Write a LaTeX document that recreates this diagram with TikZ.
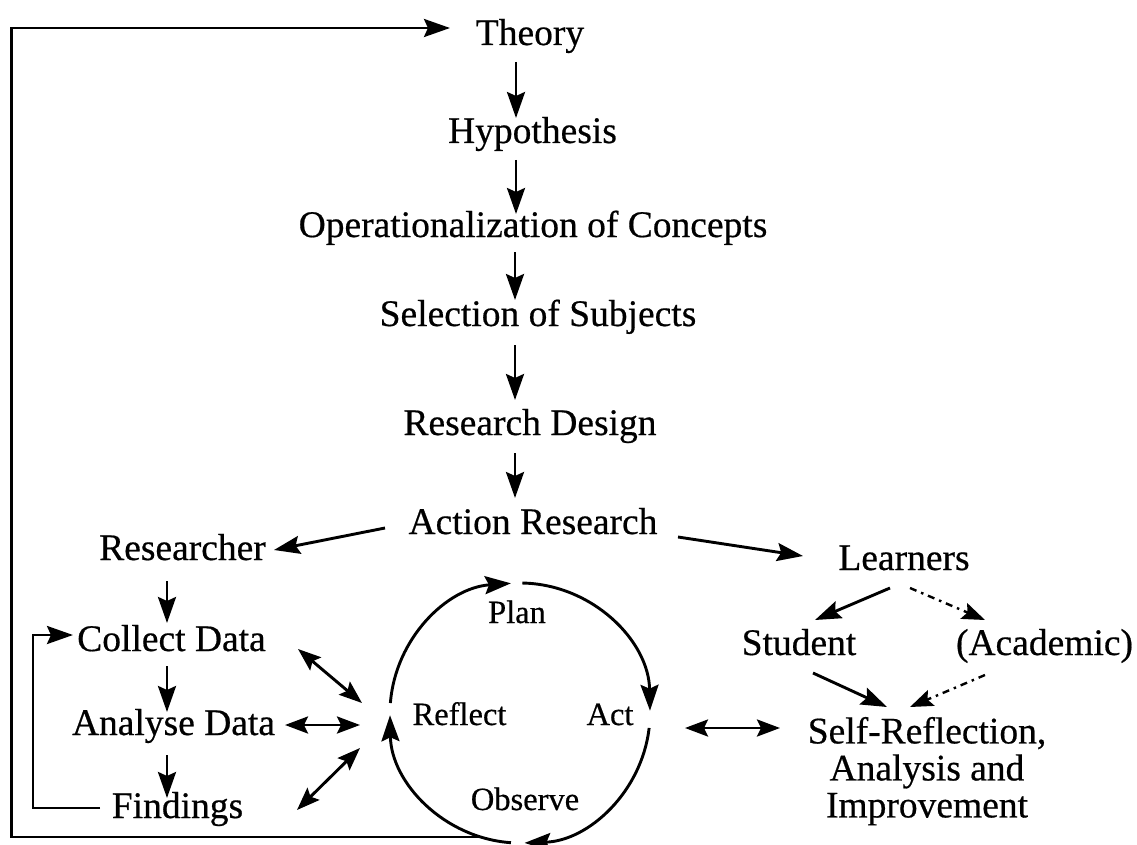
\documentclass[tikz,border=0pt]{standalone}
\usepackage{fontspec}
\setmainfont{Liberation Serif}[FakeBold=0.5,AutoFakeBold=0.5]
\usetikzlibrary{arrows.meta}
\begin{document}
\begin{tikzpicture}[x=1pt,y=1pt,
  lbl/.style={inner sep=0pt, outer sep=0pt, anchor=base, font=\fontsize{37.5}{37}\selectfont\bfseries},
  slbl/.style={inner sep=0pt, outer sep=0pt, anchor=base, font=\fontsize{32.5}{34}\selectfont\bfseries},
  arr/.style={line width=2.9pt, -{Stealth[length=26pt,width=18pt,inset=4pt]}},
  darr/.style={line width=2.9pt, {Stealth[length=23pt,width=17pt,inset=4pt]}-{Stealth[length=23pt,width=17pt,inset=4pt]}},
  dotarr/.style={line width=2.4pt, dash pattern=on 7pt off 5pt on 2.5pt off 5pt, -{Stealth[length=23pt,width=17pt,inset=4pt]}},
]
\useasboundingbox (0,0) rectangle (1137,-845);

% text nodes
\node[lbl] (theory) at (530,-45) {Theory};
\node[lbl] (hyp) at (532.5,-143) {Hypothesis};
\node[lbl] (oper) at (533,-237) {Operationalization of Concepts};
\node[lbl] (sel) at (538,-326) {Selection of Subjects};
\node[lbl] (rd) at (530,-435) {Research Design};
\node[lbl] (ar) at (533,-534) {Action Research};
\node[lbl] (res) at (182.5,-560) {Researcher};
\node[lbl] (lrn) at (904,-570) {Learners};
\node[lbl] (col) at (171.5,-651) {Collect Data};
\node[lbl] (ana) at (173.5,-735) {Analyse Data};
\node[lbl] (fnd) at (177.5,-818) {Findings};
\node[lbl] (stu) at (799,-655) {Student};
\node[lbl] (aca) at (1044.5,-655) {(Academic)};
\node[lbl, anchor=north, align=center] (self) at (927,-717) {Self-Reflection,\\Analysis and\\Improvement};

% cycle
\node[circle, minimum size=260pt, inner sep=0pt, outer sep=0pt] (cyc) at (520,-713) {};
\node[slbl] (plan) at (517,-623) {Plan};
\node[slbl] (reflect) at (459.5,-725) {Reflect};
\node[slbl] (act) at (610,-725) {Act};
\node[slbl] (observe) at (525,-810) {Observe};

\draw[arr] ([shift={(175.6:130)}]cyc.center) arc[start angle=175.6, end angle=94, radius=130];
\draw[arr] ([shift={(89:130)}]cyc.center) arc[start angle=89, end angle=1, radius=130];
\draw[arr] ([shift={(353.4:130)}]cyc.center) arc[start angle=353.4, end angle=272, radius=130];
\draw[arr] ([shift={(266:130)}]cyc.center) arc[start angle=266, end angle=181, radius=130];

% main column
\draw[arr] ([shift={(-14,-17)}]theory.base) -- ([shift={(-16.5,25)}]hyp.base);
\draw[arr] ([shift={(-16.5,-17)}]hyp.base) -- ([shift={(-17,23)}]oper.base);
\draw[arr] ([shift={(-18,-15)}]oper.base) -- ([shift={(-23,26)}]sel.base);
\draw[arr] ([shift={(-23,-19)}]sel.base) -- ([shift={(-15,35)}]rd.base);
\draw[arr] ([shift={(-15,-18)}]rd.base) -- ([shift={(-18,36)}]ar.base);

% branches
\draw[arr] ([shift={(-148,6)}]ar.base) -- ([shift={(91.5,10)}]res.base);
\draw[arr] ([shift={(145,-3)}]ar.base) -- ([shift={(-101,14)}]lrn.base);

% left side
\draw[arr] ([shift={(-15.5,-21)}]res.base) -- ([shift={(-4.5,28)}]col.base);
\draw[arr] ([shift={(-4.5,-15)}]col.base) -- ([shift={(-6.5,23)}]ana.base);
\draw[arr] ([shift={(-6.5,-20)}]ana.base) -- ([shift={(-10.5,20)}]fnd.base);
\draw[arr] ([shift={(-77.5,10)}]fnd.base) -- ++(-67,0) |- ([shift={(-98.5,16)}]col.base);

\draw[darr] ([shift={(126.5,2)}]col.base) -- ([shift={(-158,10)}]cyc.center);
\draw[darr] ([shift={(111.5,10)}]ana.base) -- ([shift={(-160,-12)}]cyc.center);
\draw[darr] ([shift={(119.5,8)}]fnd.base) -- ([shift={(-160,-35)}]cyc.center);

% right side
\draw[darr] ([shift={(165,-15)}]cyc.center) -- ([shift={(-147,-11)}]self.north);
\draw[arr] ([shift={(-14,-18)}]lrn.base) -- ([shift={(16,35)}]stu.base);
\draw[dotarr] ([shift={(6,-18)}]lrn.base) -- ([shift={(-59.5,35)}]aca.base);
\draw[arr] ([shift={(14,-18)}]stu.base) -- ([shift={(-40,10)}]self.north);
\draw[dotarr] ([shift={(-59.5,-20)}]aca.base) -- ([shift={(-17,10)}]self.north);

% feedback loop to theory
\draw[arr] ([shift={(252.5:130)}]cyc.center) -- ++(-469,0) |- ([shift={(-80,17)}]theory.base);
\end{tikzpicture}
\end{document}
